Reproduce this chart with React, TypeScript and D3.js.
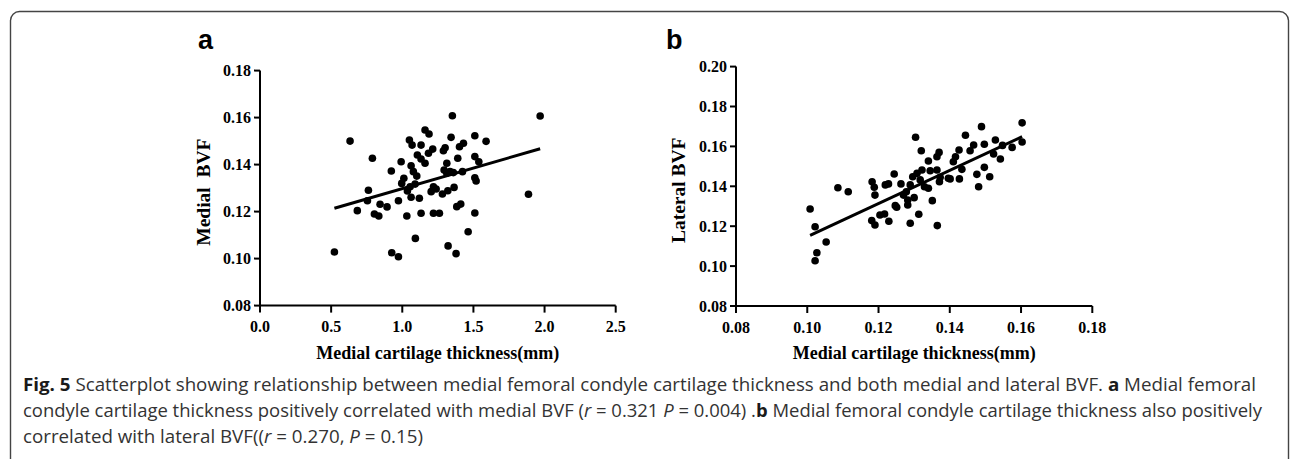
import React from "react";
import * as d3 from "d3";

// ---------- Data ----------
const medialThicknessA = [
  0.633, 0.523, 0.790, 0.762, 0.684, 0.755, 0.804, 0.835, 0.844, 0.893,
  0.923, 0.926, 0.973, 0.973, 0.992, 1.032, 1.050, 1.069, 1.011, 0.996,
  1.062, 1.078, 1.102, 1.055, 1.036, 1.062, 1.090, 1.120, 1.092, 1.132,
  1.106, 1.132, 1.160, 1.132, 1.160, 1.188, 1.184, 1.214, 1.203, 1.219,
  1.238, 1.219, 1.261, 1.282, 1.320, 1.364, 1.289, 1.301, 1.343, 1.352,
  1.313, 1.294, 1.313, 1.336, 1.359, 1.390, 1.402, 1.430, 1.423, 1.383,
  1.411, 1.463, 1.322, 1.378, 1.510, 1.510, 1.538, 1.510, 1.519, 1.510,
  1.589, 1.887, 1.969,
];
const medialBVF = [
  0.1500, 0.1028, 0.1427, 0.1291, 0.1204, 0.1246, 0.1190, 0.1181, 0.1231, 0.1220,
  0.1373, 0.1025, 0.1008, 0.1246, 0.1412, 0.1181, 0.1505, 0.1483, 0.1342, 0.1320,
  0.1395, 0.1370, 0.1351, 0.1306, 0.1288, 0.1261, 0.1317, 0.1257, 0.1086, 0.1193,
  0.1441, 0.1424, 0.1406, 0.1483, 0.1547, 0.1530, 0.1448, 0.1466, 0.1285, 0.1306,
  0.1296, 0.1193, 0.1193, 0.1275, 0.1289, 0.1303, 0.1459, 0.1472, 0.1516, 0.1608,
  0.1406, 0.1377, 0.1363, 0.1370, 0.1366, 0.1427, 0.1476, 0.1491, 0.1370, 0.1221,
  0.1232, 0.1114, 0.1054, 0.1021, 0.1523, 0.1434, 0.1412, 0.1344, 0.1330, 0.1194,
  0.1499, 0.1274, 0.1607,
];
const medialThicknessB = [
  0.1008, 0.1022, 0.1027, 0.1022, 0.1053, 0.1086, 0.1115, 0.1182, 0.1188, 0.1190,
  0.1181, 0.1190, 0.1204, 0.1217, 0.1229, 0.1219, 0.1228, 0.1244, 0.1263, 0.1270,
  0.1247, 0.1251, 0.1282, 0.1282, 0.1278, 0.1300, 0.1289, 0.1313, 0.1289, 0.1296,
  0.1308, 0.1322, 0.1317, 0.1304, 0.1320, 0.1340, 0.1329, 0.1340, 0.1351, 0.1345,
  0.1364, 0.1370, 0.1364, 0.1373, 0.1371, 0.1365, 0.1396, 0.1401, 0.1410, 0.1416,
  0.1426, 0.1427, 0.1434, 0.1444, 0.1457, 0.1467, 0.1476, 0.1481, 0.1489, 0.1497,
  0.1497, 0.1512, 0.1528, 0.1523, 0.1542, 0.1548, 0.1575, 0.1603, 0.1603,
];
const lateralBVF = [
  0.1286, 0.1197, 0.1067, 0.1027, 0.1121, 0.1393, 0.1373, 0.1423, 0.1395, 0.1356,
  0.1228, 0.1206, 0.1256, 0.1261, 0.1225, 0.1407, 0.1412, 0.1462, 0.1412, 0.1356,
  0.1303, 0.1295, 0.1306, 0.1331, 0.1373, 0.1343, 0.1215, 0.1260, 0.1407, 0.1448,
  0.1465, 0.1482, 0.1432, 0.1646, 0.1578, 0.1527, 0.1398, 0.1390, 0.1328, 0.1478,
  0.1548, 0.1570, 0.1482, 0.1445, 0.1423, 0.1203, 0.1440, 0.1437, 0.1523, 0.1548,
  0.1582, 0.1437, 0.1485, 0.1656, 0.1578, 0.1607, 0.1460, 0.1398, 0.1699, 0.1611,
  0.1495, 0.1448, 0.1632, 0.1562, 0.1537, 0.1605, 0.1595, 0.1718, 0.1622,
];

// fitted lines: [slope, intercept]
const fitA = [0.01749, 0.1123];
const fitB = [0.832, 0.0315];

const xTicksA = [0, 0.5, 1.0, 1.5, 2.0, 2.5];
const yTicksA = [0.08, 0.10, 0.12, 0.14, 0.16, 0.18];
const xTicksB = [0.08, 0.10, 0.12, 0.14, 0.16, 0.18];
const yTicksB = [0.08, 0.10, 0.12, 0.14, 0.16, 0.18, 0.20];

const serif = "'Liberation Serif', 'Times New Roman', serif";
const sans = "'Liberation Sans', Arial, sans-serif";
const capFont = "'Open Sans', 'Noto Sans', sans-serif";

type PanelProps = {
  label: string;
  xs: number[];
  ys: number[];
  fit: number[];
  xDomain: [number, number];
  yDomain: [number, number];
  xRange: [number, number];
  yRange: [number, number];
  xTicks: number[];
  yTicks: number[];
  xFmt: (v: number) => string;
  yTitle: string;
  xTitle: string;
  labelX: number;
  yTitleX: number;
};

function Panel(p: PanelProps) {
  const x = d3.scaleLinear().domain(p.xDomain).range(p.xRange);
  const y = d3.scaleLinear().domain(p.yDomain).range(p.yRange);
  const x0 = p.xRange[0];
  const yb = p.yRange[0];
  const xmin = d3.min(p.xs) as number;
  const xmax = d3.max(p.xs) as number;
  const line = d3.line<number>().x((v) => x(v)).y((v) => y(p.fit[0] * v + p.fit[1]));
  const yMid = (p.yRange[0] + p.yRange[1]) / 2 + 4;
  return (
    <g>
      <text x={p.labelX} y={49} fontFamily={sans} fontWeight="bold" fontSize={27} fill="#000">
        {p.label}
      </text>
      <line x1={x0} x2={x0} y1={p.yRange[1]} y2={yb} stroke="#000" strokeWidth={2} />
      <line x1={x0} x2={p.xRange[1]} y1={yb} y2={yb} stroke="#000" strokeWidth={2} />
      {p.yTicks.map((t) => (
        <g key={"y" + t}>
          <line x1={x0 - 6} x2={x0} y1={y(t)} y2={y(t)} stroke="#000" strokeWidth={2} />
          <text x={x0 - 9} y={y(t) + 5.5} textAnchor="end" fontFamily={serif} fontWeight="bold" fontSize={16}>
            {t.toFixed(2)}
          </text>
        </g>
      ))}
      {p.xTicks.map((t) => (
        <g key={"x" + t}>
          <line x1={x(t)} x2={x(t)} y1={yb} y2={yb + 7} stroke="#000" strokeWidth={2} />
          <text x={x(t)} y={yb + 26.5} textAnchor="middle" fontFamily={serif} fontWeight="bold" fontSize={16}>
            {p.xFmt(t)}
          </text>
        </g>
      ))}
      <text
        x={(p.xRange[0] + p.xRange[1]) / 2}
        y={359}
        textAnchor="middle"
        fontFamily={serif}
        fontWeight="bold"
        fontSize={18}
      >
        {p.xTitle}
      </text>
      <text
        transform={`translate(${p.yTitleX},${yMid}) rotate(-90)`}
        textAnchor="middle"
        fontFamily={serif}
        fontWeight="bold"
        fontSize={19.5}
        style={{ whiteSpace: "pre" }}
      >
        {p.yTitle}
      </text>
      {p.xs.map((v, i) => (
        <circle key={i} cx={x(v)} cy={y(p.ys[i])} r={3.8} fill="#000" />
      ))}
      <path d={line([xmin, xmax]) || ""} stroke="#000" strokeWidth={3} fill="none" />
    </g>
  );
}

export default function App() {
  return (
    <svg
      width={1290}
      height={459}
      style={{ position: "absolute", left: 0, top: 0, background: "#fff" }}
    >
      <rect x={10.5} y={11.5} width={1278} height={480} rx={9} fill="none" stroke="#444" strokeWidth={1.4} />
      <Panel
        label="a"
        xs={medialThicknessA}
        ys={medialBVF}
        fit={fitA}
        xDomain={[0, 2.5]}
        yDomain={[0.08, 0.18]}
        xRange={[260, 615.7]}
        yRange={[305.6, 70.6]}
        xTicks={xTicksA}
        yTicks={yTicksA}
        xFmt={(v) => v.toFixed(1)}
        yTitle={"Medial  BVF"}
        xTitle="Medial cartilage thickness(mm)"
        labelX={198}
        yTitleX={210}
      />
      <Panel
        label="b"
        xs={medialThicknessB}
        ys={lateralBVF}
        fit={fitB}
        xDomain={[0.08, 0.18]}
        yDomain={[0.08, 0.20]}
        xRange={[736, 1092.3]}
        yRange={[306, 66.6]}
        xTicks={xTicksB}
        yTicks={yTicksB}
        xFmt={(v) => v.toFixed(2)}
        yTitle="Lateral BVF"
        xTitle="Medial cartilage thickness(mm)"
        labelX={666}
        yTitleX={685}
      />
      <g fontFamily={capFont} fontSize={18} fill="#333">
        <text x={23} y={391} textLength={1233} lengthAdjust="spacingAndGlyphs">
          <tspan fontWeight="bold" fill="#1a1a1a">Fig. 5</tspan>
          {" Scatterplot showing relationship between medial femoral condyle cartilage thickness and both medial and lateral BVF. "}
          <tspan fontWeight="bold" fill="#1a1a1a">a</tspan>
          {" Medial femoral"}
        </text>
        <text x={23} y={417} textLength={1239} lengthAdjust="spacingAndGlyphs">
          {"condyle cartilage thickness positively correlated with medial BVF ("}
          <tspan fontStyle="italic">r</tspan>
          {" = 0.321 "}
          <tspan fontStyle="italic">P</tspan>
          {" = 0.004) ."}
          <tspan fontWeight="bold" fill="#1a1a1a">b</tspan>
          {" Medial femoral condyle cartilage thickness also positively"}
        </text>
        <text x={23} y={443} textLength={400} lengthAdjust="spacingAndGlyphs">
          {"correlated with lateral BVF(("}
          <tspan fontStyle="italic">r</tspan>
          {" = 0.270, "}
          <tspan fontStyle="italic">P</tspan>
          {" = 0.15)"}
        </text>
      </g>
    </svg>
  );
}
